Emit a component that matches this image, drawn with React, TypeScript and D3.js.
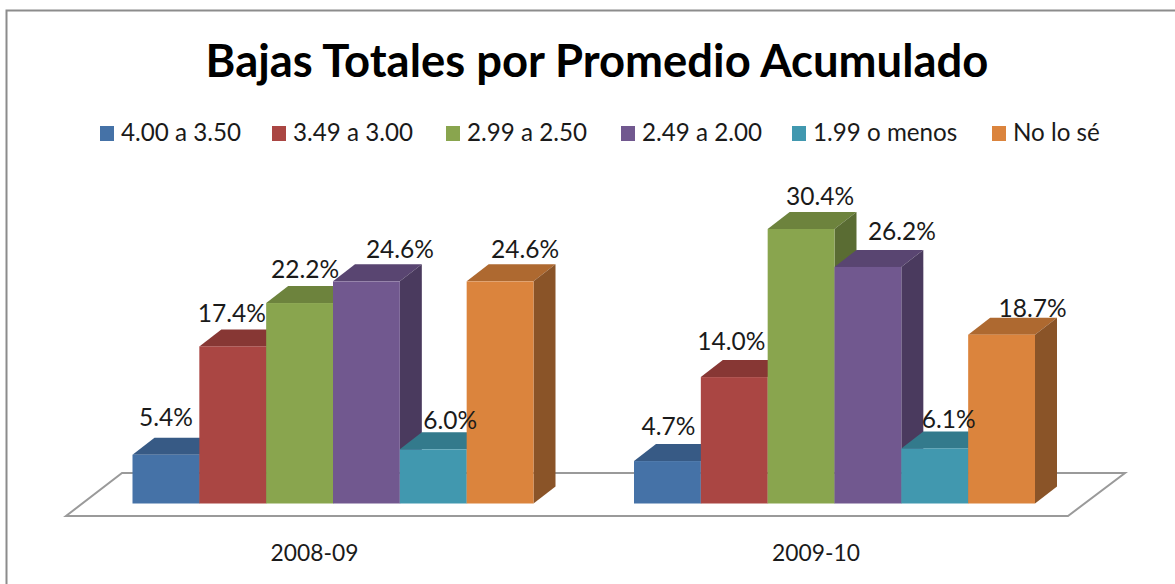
import React from "react";
import * as d3 from "d3";

const title = "Bajas Totales por Promedio Acumulado";
const categories = ["2008-09", "2009-10"];
const seriesNames = ["4.00 a 3.50", "3.49 a 3.00", "2.99 a 2.50", "2.49 a 2.00", "1.99 o menos", "No lo sé"];
const values2008 = [5.4, 17.4, 22.2, 24.6, 6.0, 24.6];
const values2009 = [4.7, 14.0, 30.4, 26.2, 6.1, 18.7];
const frontColors = ["#4572a7", "#aa4643", "#89a54e", "#71588f", "#4198af", "#db843d"];
const topColors = ["#375a85", "#873734", "#6d833d", "#594571", "#337a8c", "#ae6930"];
const sideColors = ["#2e4b6f", "#6f2e2c", "#5a6c33", "#4a3a5e", "#2a6473", "#8a5428"];
const legendX = [100, 272, 446, 621, 792, 992];
const labelDx = [[0, -1, 5.5, 33.5, 17, 25], [1, -3, 19, 34, 14, 31]];
const labelDy = [[-29, -24, -25, -23, -20, -23], [-26, -27, -24, -27, -20, -18]];

const W = 1175, H = 584;
const baseY = 503.5, depthX = 22, depthY = 17;
const font = "Lato, Carlito, Calibri, sans-serif";

const y = d3.scaleLinear().domain([0, 30.4]).range([baseY, 229]);
const groupX = d3.scalePoint<string>().domain(categories).range([333, 834.5]);
const barX = d3.scaleBand<number>().domain([0, 1, 2, 3, 4, 5]).range([-200.5, 200.5]);
const poly = (pts: [number, number][]) => d3.line()(pts) + "Z";

export default function App() {
  const rows = [values2008, values2009];
  return (
    <svg width={W} height={H} viewBox={`0 0 ${W} ${H}`} style={{ position: "absolute", left: 0, top: 0, background: "#fff" }}>
      <path d={`M${W} 10.5H6.5V${H}`} fill="none" stroke="#8c8c8c" strokeWidth={2} />
      <text x={597} y={77} textAnchor="middle" fontFamily={font} fontWeight={700} fontSize={45.4} fill="#000">{title}</text>
      {seriesNames.map((s, i) => (
        <g key={s}>
          <rect x={legendX[i]} y={126} width={14} height={15} fill={frontColors[i]} />
          <text x={legendX[i] + 21} y={141} fontFamily={font} fontSize={24.2} fill="#1a1a1a">{s}</text>
        </g>
      ))}
      <path d={poly([[66, 516], [1068, 516], [1125, 473], [122, 473]])} fill="#fff" stroke="#9a9a9a" strokeWidth={2} />
      {categories.map((c, g) => {
        const cx = groupX(c)!;
        return (
          <g key={c}>
            {rows[g].map((v, i) => {
              const x0 = cx + barX(i)!, x1 = x0 + barX.bandwidth(), t = y(v);
              return (
                <g key={i}>
                  <path d={poly([[x0, t], [x0 + depthX, t - depthY], [x1 + depthX, t - depthY], [x1, t]])} fill={topColors[i]} />
                  <path d={poly([[x1, t], [x1 + depthX, t - depthY], [x1 + depthX, baseY - depthY], [x1, baseY]])} fill={sideColors[i]} />
                </g>
              );
            })}
            {rows[g].map((v, i) => {
              const x0 = cx + barX(i)!;
              return <rect key={i} x={x0} y={y(v)} width={barX.bandwidth()} height={baseY - y(v)} fill={frontColors[i]} />;
            })}
            {rows[g].map((v, i) => {
              const xm = cx + barX(i)! + barX.bandwidth() / 2;
              return (
                <text key={i} x={xm + labelDx[g][i]} y={y(v) + labelDy[g][i]} textAnchor="middle" fontFamily={font} fontSize={24.5} fill="#1a1a1a">
                  {v.toFixed(1)}%
                </text>
              );
            })}
            <text x={cx - 18.5} y={561} textAnchor="middle" fontFamily={font} fontSize={22.8} fill="#1a1a1a">{c}</text>
          </g>
        );
      })}
    </svg>
  );
}
